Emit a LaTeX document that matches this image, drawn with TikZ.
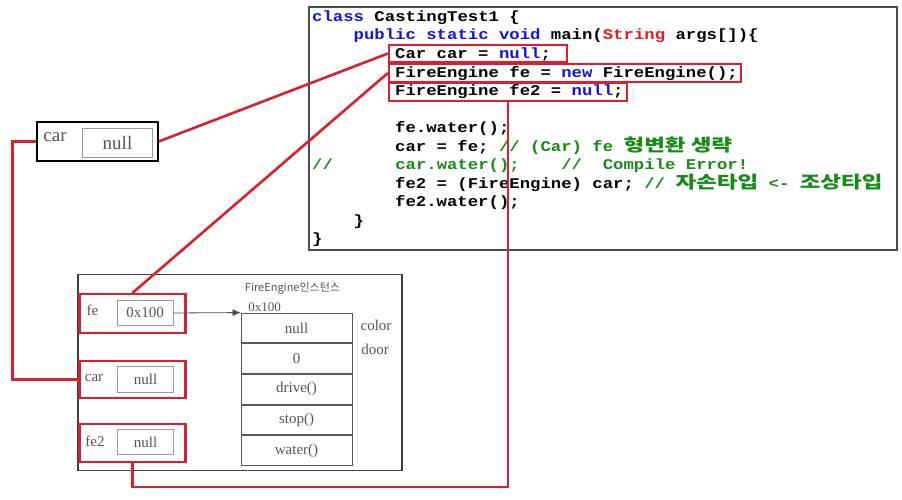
\documentclass[tikz,border=0pt]{standalone}
\usepackage{fontspec}
\setmainfont{Liberation Serif}
\setmonofont{Liberation Mono}
\newfontfamily\krfont{Noto Sans CJK KR}[Scale=1.15]
\newfontfamily\krsans{Noto Sans CJK KR}
\usetikzlibrary{positioning,arrows.meta}
\definecolor{hired}{RGB}{218,32,44}
\definecolor{kwblue}{RGB}{20,20,225}
\definecolor{strred}{RGB}{228,30,30}
\definecolor{cmtgreen}{RGB}{22,140,22}
\definecolor{memgray}{RGB}{85,85,85}
\newcommand{\kw}[1]{\textcolor{kwblue}{#1}}
\newcommand{\cmt}[1]{\textcolor{cmtgreen}{#1}}
\newcommand{\kr}[1]{\scalebox{1.13}[1]{\krfont\bfseries #1}}

\begin{document}
\begin{tikzpicture}[x=1pt,y=-1pt,
	codeline/.style={anchor=base west, inner sep=0pt, yscale=0.86,
		font=\ttfamily\bfseries\fontsize{17.3}{18.5}\selectfont},
	hilite/.style={draw=hired, line width=2.2pt, inner sep=0pt},
	valbox/.style={draw=gray!80, line width=0.9pt, inner sep=0pt,
		minimum width=56pt, minimum height=25pt,
		text=memgray, font=\fontsize{15}{15}\selectfont},
	cell/.style={draw=gray!70!black, line width=0.9pt, inner sep=0pt,
		minimum width=111pt, minimum height=29.8pt,
		text=memgray, font=\fontsize{15}{15}\selectfont},
	memlabel/.style={inner sep=0pt, text=memgray, font=\fontsize{15}{15}\selectfont},
	link/.style={draw=hired, line width=2.6pt}
]
	\path[use as bounding box, fill=white] (0,0) rectangle (902,499);

	% source code
	\node[draw=gray!60!black, line width=1.4pt,
		minimum width=588pt, minimum height=243pt
	] (code) at (603,128.5) {};
	\node[codeline] (c1) at (312,21) {\kw{class} CastingTest1 \{};
	\node[codeline] (c2) at (353.5,39.5) {\kw{public static void} main(\textcolor{strred}{String} args[])\{};
	\node[codeline] (c3) at (395,58.5) {Car car = \kw{null};};
	\node[codeline] (c4) at (395,77) {FireEngine fe = \kw{new} FireEngine();};
	\node[codeline] (c5) at (395,95.5) {FireEngine fe2 = \kw{null};};
	\node[codeline] (c7) at (395,132.5) {fe.water();};
	\node[codeline] (c8) at (395,151) {car = fe; \cmt{// (Car) fe \kr{형변환 생략}}};
	\node[codeline] (c9) at (312,169.5) {\cmt{//~~~~~~car.water();~~~~//~~Compile Error!}};
	\node[codeline] (c10) at (395,188) {fe2 = (FireEngine) car; \cmt{// \kr{자손타입} <- \kr{조상타입}}};
	\node[codeline] (c11) at (395,206.5) {fe2.water();};
	\node[codeline] (c12) at (353.5,225) {\}};
	\node[codeline] (c13) at (312,243.5) {\}};

	\node[hilite, minimum width=178pt, minimum height=17pt] (bcar) at (478,53.5) {};
	\node[hilite, minimum width=352pt, minimum height=18pt] (bfe) at (565,73) {};
	\node[hilite, minimum width=238pt, minimum height=18pt] (bfe2) at (508,92) {};

	% stack variable car
	\node[draw=black, line width=1.3pt,
		minimum width=121pt, minimum height=39pt
	] (frame) at (97.5,141.5) {};
	\node[memlabel, font=\fontsize{19}{19}\selectfont] (lcar0) at (55,137) {car};
	\node[valbox, minimum width=70pt, minimum height=29pt,
		font=\fontsize{19}{19}\selectfont] (vcar0) at (117.5,142.5) {null};

	% memory
	\node[draw=black!75, line width=1.3pt,
		minimum width=324pt, minimum height=196pt
	] (heap) at (240,372.5) {};

	\node[hilite, minimum width=106pt, minimum height=39pt] (rfe) at (132.5,313.5) {};
	\node[memlabel] (lfe) at (92.5,310) {fe};
	\node[valbox] (vfe) at (145,313) {0x100};

	\node[hilite, minimum width=106pt, minimum height=37pt] (rcar) at (132.5,379.5) {};
	\node[memlabel] (lcar) at (94,378) {car};
	\node[valbox, minimum height=26pt] (vcar) at (145.5,379) {null};

	\node[hilite, minimum width=106pt, minimum height=38pt] (rfe2) at (132.5,443) {};
	\node[memlabel] (lfe2) at (95,441) {fe2};
	\node[valbox] (vfe2) at (145.5,442) {null};

	\node[inner sep=0pt, text=memgray, font=\krsans\fontsize{11}{11}\selectfont] (iname) at (292.5,288) {FireEngine인스턴스};
	\node[memlabel, font=\fontsize{13}{13}\selectfont] (addr) at (264.5,307) {0x100};

	\node[cell] (r1) at (296.5,327.9) {null};
	\node[cell, below=0pt of r1] (r2) {0};
	\node[cell, below=0pt of r2] (r3) {drive()};
	\node[cell, below=0pt of r3] (r4) {stop()};
	\node[cell, below=0pt of r4] (r5) {water()};
	\node[memlabel] (fcolor) at (376,325) {color};
	\node[memlabel] (fdoor) at (375,349) {door};

	\draw[line width=0.8pt, draw=black!70, -{Latex[length=8pt,width=7pt]}] (vfe.east) -- (r1.north west);

	% references
	\draw[link] (frame.east) -- (bcar.west);
	\draw[link] (frame.west) -- ++(-24,0) |- (rcar.west);
	\draw[link] (rfe.north) -- (bfe.west);
	\draw[link] (rfe2.south) -- ++(0,24) -| (bfe2.south);
\end{tikzpicture}
\end{document}
